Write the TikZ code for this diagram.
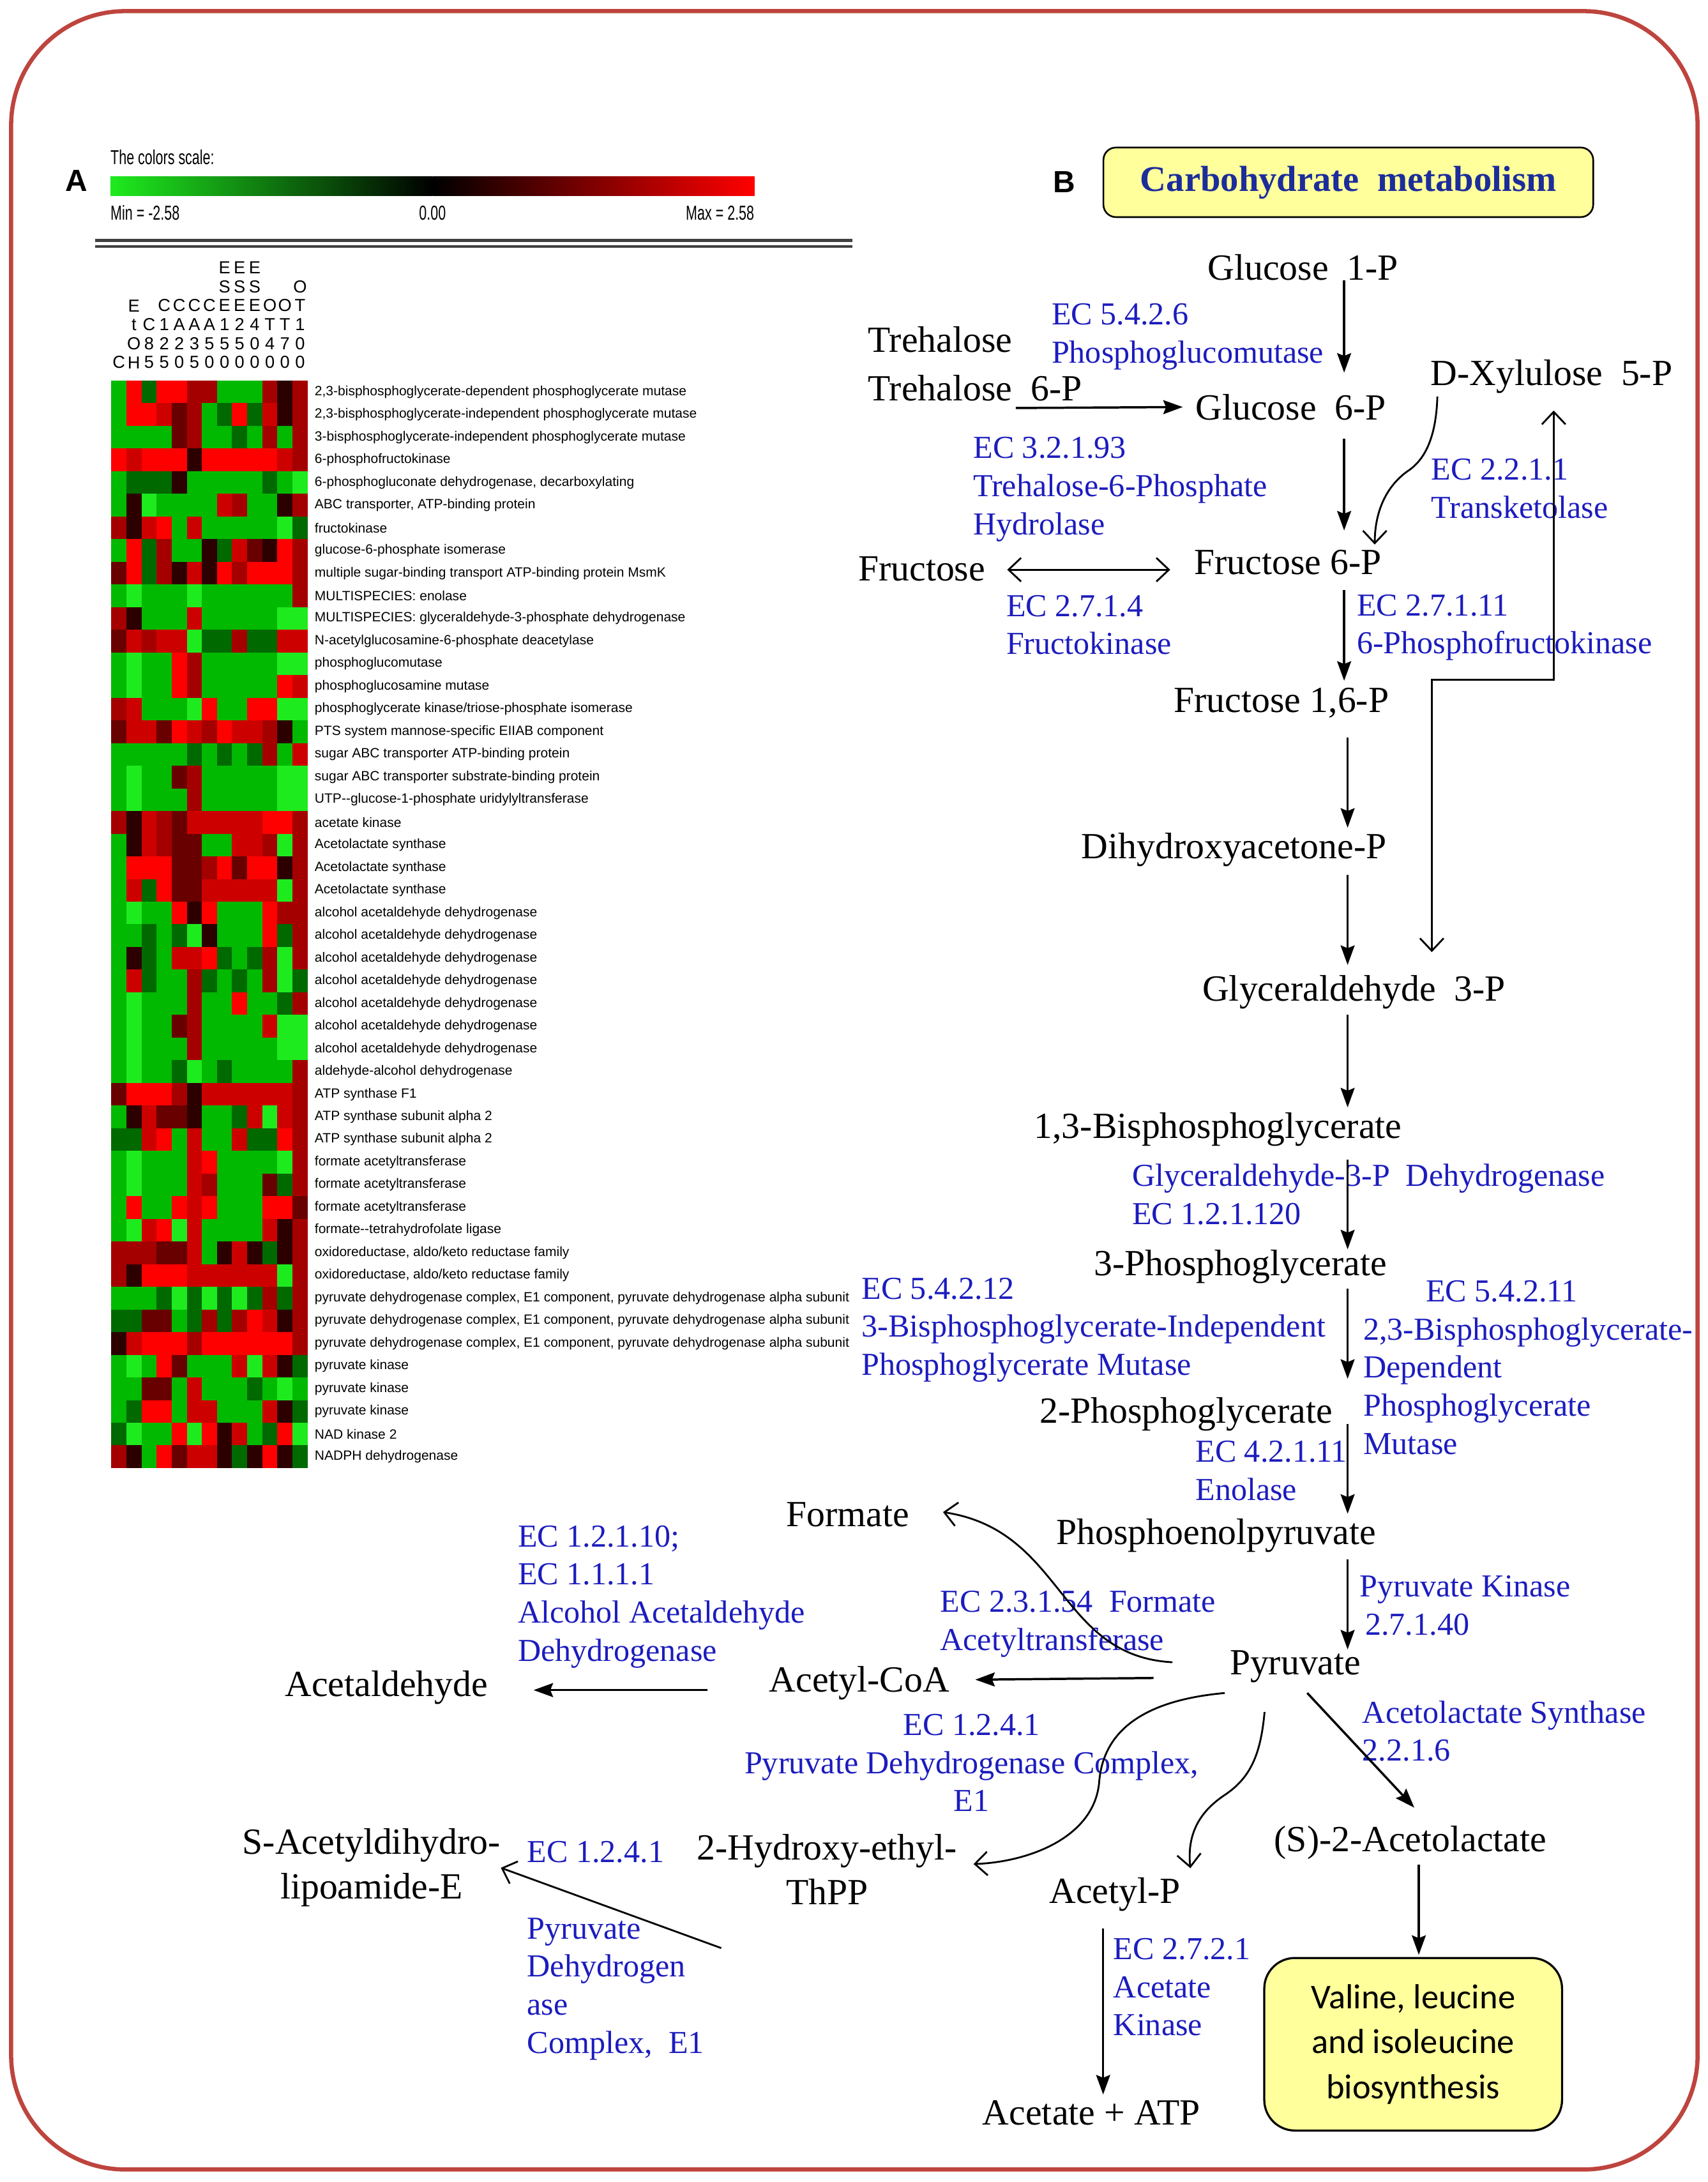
\documentclass[tikz,border=0pt]{standalone}
\usepackage{fontspec}
\usepackage{graphicx}
\usetikzlibrary{arrows.meta}

\setmainfont{Liberation Serif}
\newfontfamily\hmfont{Liberation Sans}
\newfontfamily\boxfont{Carlito}

\definecolor{hmG}{RGB}{30,235,30}
\definecolor{hmg}{RGB}{0,185,0}
\definecolor{hmd}{RGB}{0,105,0}
\definecolor{hmk}{RGB}{45,0,0}
\definecolor{hmx}{RGB}{105,0,0}
\definecolor{hmr}{RGB}{165,0,0}
\definecolor{hmm}{RGB}{205,0,0}
\definecolor{hmR}{RGB}{255,0,0}
\definecolor{enzblue}{RGB}{28,28,190}
\definecolor{titleblue}{RGB}{28,45,155}
\definecolor{framered}{RGB}{190,68,62}
\definecolor{boxyellow}{RGB}{255,255,155}

\newcommand\metfont{\fontsize{26.5}{32}\selectfont}
\newcommand\enzfont{\fontsize{23}{27.4}\selectfont}
\newcommand\hmtext[2]{\scalebox{#1}[1]{#2}}

\begin{document}
\begin{tikzpicture}[x=1pt, y=-1pt,
    met/.style={font=\metfont, inner sep=0pt, text height=18pt, text depth=0pt, anchor=base west},
    metc/.style={font=\metfont, inner sep=0pt, align=center},
    enz/.style={font=\enzfont, text=enzblue, inner sep=0pt, align=left, anchor=north west},
    react/.style={line width=1.6pt, -{Stealth[length=14pt, width=10pt, inset=2pt]}},
    barb/.style={line width=1.3pt, -{Straight Barb[length=9pt, width=17pt]}},
    barbs/.style={line width=1.3pt, {Straight Barb[length=9pt, width=17pt]}-{Straight Barb[length=9pt, width=17pt]}},
    rowlbl/.style={anchor=west, inner sep=0pt, font=\hmfont\fontsize{9.65}{11}\selectfont},
    collbl/.style={anchor=south, inner sep=0pt, align=center, font=\hmfont\fontsize{12.5}{13.6}\selectfont},
    scalelbl/.style={inner sep=0pt, font=\hmfont\fontsize{14.5}{16}\selectfont},
    panel/.style={inner sep=0pt, font=\hmfont\bfseries\fontsize{22}{24}\selectfont}]

    \useasboundingbox (0,0) rectangle (1227.5,1568);
    \fill[white] (0,0) rectangle (1227.5,1568);
    \draw[framered, line width=3pt, rounded corners=82pt] (8,8) rectangle (1220,1559);

    % panel A: colour scale and heat map
    \node[panel] (pana) at (55,130) {A};

    \node[scalelbl, anchor=west] (scaletitle) at (79.3,112.8) {\hmtext{0.68}{The colors scale:}};
    \shade[left color=hmG, right color=black] (79.3,126.7) rectangle (310.8,140.5);
    \shade[left color=black, right color=hmR] (310.8,126.7) rectangle (542.2,140.5);
    \node[scalelbl, anchor=west] (minlbl) at (79.3,153) {\hmtext{0.68}{Min = -2.58}};
    \node[scalelbl] (zerolbl) at (310.8,153) {\hmtext{0.68}{0.00}};
    \node[scalelbl, anchor=east] (maxlbl) at (542.2,153) {\hmtext{0.68}{Max = 2.58}};

    \draw[line width=2pt, black!75] (68.6,172.7) -- (612.8,172.7);
    \draw[line width=2pt, black!75] (68.6,177.2) -- (612.8,177.2);

    \foreach \col [count=\j] in {C, E\\t\\O\\H, C\\8\\5, C\\1\\2\\5, C\\A\\2\\0, C\\A\\3\\5, C\\A\\5\\0,
        E\\S\\E\\1\\5\\0, E\\S\\E\\2\\5\\0, E\\S\\E\\4\\0\\0, O\\T\\4\\0, O\\T\\7\\0, O\\T\\1\\0\\0}
        \node[collbl] (col\j) at ({80+(\j-0.5)*10.85},265) {\col};

    \foreach \row [count=\i] in {
        {g,R,d,R,R,r,r,g,g,g,r,k,r}, {g,R,R,m,x,r,g,d,R,d,m,k,r}, {g,g,g,g,x,r,g,g,d,g,r,g,r},
        {R,m,R,R,R,k,R,R,R,R,R,m,r}, {g,d,d,d,k,g,g,g,g,g,d,g,G}, {g,k,G,g,g,g,g,m,r,g,g,k,r},
        {r,k,m,R,g,m,g,g,g,g,g,G,d}, {g,R,d,r,g,g,k,d,m,x,k,R,r}, {x,R,d,r,k,m,k,R,r,R,R,R,r},
        {g,G,g,g,g,G,g,g,g,g,g,g,r}, {r,k,g,g,g,m,g,g,g,g,g,G,G}, {x,m,r,m,m,G,d,d,r,d,d,m,m},
        {g,G,g,g,R,r,g,g,g,g,g,G,G}, {g,G,g,g,R,r,g,g,g,g,g,R,m}, {r,m,g,g,g,G,R,g,g,R,R,G,G},
        {x,m,m,x,R,m,r,R,m,m,r,k,g}, {g,g,g,g,g,d,g,d,g,d,r,g,m}, {g,G,g,g,x,r,g,g,g,g,g,G,G},
        {g,G,g,g,g,r,g,g,g,g,g,G,G}, {r,k,m,r,x,m,m,m,m,m,R,R,r}, {g,k,m,r,x,x,g,g,m,m,r,G,r},
        {g,R,R,R,x,x,r,R,x,R,R,k,r}, {g,m,d,R,x,x,m,m,m,m,m,G,r}, {g,G,g,g,R,k,R,g,g,g,R,r,r},
        {g,g,d,g,d,G,k,g,g,g,R,d,r}, {g,k,d,g,m,m,R,d,g,d,r,G,r}, {g,m,d,g,g,r,d,g,d,g,r,G,d},
        {g,G,g,g,g,r,g,g,R,g,g,d,r}, {g,G,g,g,x,r,g,g,g,g,m,G,G}, {g,G,g,g,g,r,g,g,g,g,g,G,G},
        {g,G,g,g,d,G,g,d,g,g,g,g,r}, {x,R,R,R,r,k,m,m,m,m,m,m,r}, {g,k,m,x,x,k,g,g,d,m,G,m,r},
        {d,d,m,R,g,m,g,g,m,d,d,R,r}, {g,G,g,g,g,m,R,g,g,g,g,G,r}, {g,G,g,g,g,m,r,g,g,g,x,d,r},
        {g,R,g,g,R,m,R,g,g,g,R,R,x}, {g,G,m,R,G,m,g,g,g,g,m,k,r}, {r,r,r,x,x,m,g,k,m,k,d,k,r},
        {r,k,R,R,R,m,m,m,m,m,m,G,r}, {g,g,g,d,G,d,G,d,G,d,r,d,r}, {d,d,x,x,g,d,r,d,r,R,m,k,r},
        {k,m,R,R,R,r,R,R,R,R,R,R,r}, {g,G,g,R,x,g,g,g,m,G,m,k,d}, {g,g,x,x,g,m,g,g,g,d,g,G,g},
        {g,d,R,R,g,m,m,g,g,g,m,k,d}, {d,G,g,g,R,G,R,k,m,g,d,R,G}, {r,k,g,R,x,m,m,k,d,k,R,k,d}}
        \foreach \cell [count=\j] in \row
            \fill[fill=hm\cell] ({80+(\j-1)*10.85},{273.5+(\i-1)*16.28}) rectangle +(10.95,16.4);

    \foreach \lbl [count=\i] in {
        {2,3-bisphosphoglycerate-dependent phosphoglycerate mutase},
        {2,3-bisphosphoglycerate-independent phosphoglycerate mutase},
        3-bisphosphoglycerate-independent phosphoglycerate mutase,
        6-phosphofructokinase,
        {6-phosphogluconate dehydrogenase, decarboxylating},
        {ABC transporter, ATP-binding protein},
        fructokinase,
        glucose-6-phosphate isomerase,
        multiple sugar-binding transport ATP-binding protein MsmK,
        MULTISPECIES: enolase,
        MULTISPECIES: glyceraldehyde-3-phosphate dehydrogenase,
        N-acetylglucosamine-6-phosphate deacetylase,
        phosphoglucomutase,
        phosphoglucosamine mutase,
        phosphoglycerate kinase/triose-phosphate isomerase,
        PTS system mannose-specific EIIAB component,
        sugar ABC transporter ATP-binding protein,
        sugar ABC transporter substrate-binding protein,
        UTP--glucose-1-phosphate uridylyltransferase,
        acetate kinase,
        Acetolactate synthase, Acetolactate synthase, Acetolactate synthase,
        alcohol acetaldehyde dehydrogenase, alcohol acetaldehyde dehydrogenase,
        alcohol acetaldehyde dehydrogenase, alcohol acetaldehyde dehydrogenase,
        alcohol acetaldehyde dehydrogenase, alcohol acetaldehyde dehydrogenase,
        alcohol acetaldehyde dehydrogenase,
        aldehyde-alcohol dehydrogenase,
        ATP synthase F1,
        ATP synthase subunit alpha 2, ATP synthase subunit alpha 2,
        formate acetyltransferase, formate acetyltransferase, formate acetyltransferase,
        formate--tetrahydrofolate ligase,
        {oxidoreductase, aldo/keto reductase family}, {oxidoreductase, aldo/keto reductase family},
        {pyruvate dehydrogenase complex, E1 component, pyruvate dehydrogenase alpha subunit},
        {pyruvate dehydrogenase complex, E1 component, pyruvate dehydrogenase alpha subunit},
        {pyruvate dehydrogenase complex, E1 component, pyruvate dehydrogenase alpha subunit},
        pyruvate kinase, pyruvate kinase, pyruvate kinase,
        NAD kinase 2,
        NADPH dehydrogenase}
        \node[rowlbl] (lbl\i) at (226,{273.5+(\i-0.5)*16.28}) {\lbl};

    % panel B: pathway
    \node[panel] (panb) at (765,131) {B};

    \node[draw, fill=boxyellow, line width=1.2pt, rounded corners=9pt, minimum width=352pt, minimum height=50pt,
        font=\bfseries\fontsize{26}{30}\selectfont, text=titleblue] (carb) at (969,131) {Carbohydrate\enspace metabolism};

    \node[met] (glc1p) at (867.8,201.4) {Glucose\enspace 1-P};
    \node[met] (treh) at (623.7,253) {Trehalose};
    \node[met] (treh6p) at (623.7,288) {Trehalose\enspace 6-P};
    \node[met] (glc6p) at (859,301.5) {Glucose\enspace 6-P};
    \node[met] (xyl) at (1028,276.8) {D-Xylulose\enspace 5-P};
    \node[met] (fru) at (616.6,417.4) {Fructose};
    \node[met] (fru6p) at (858,412.9) {Fructose 6-P};
    \node[met] (fbp) at (843.4,512) {Fructose 1,6-P};
    \node[met] (dhap) at (777,617) {Dihydroxyacetone-P};
    \node[met] (gap) at (864,719.4) {Glyceraldehyde\enspace 3-P};
    \node[met] (bpg) at (743,818) {1,3-Bisphosphoglycerate};
    \node[met] (pg3) at (786,916.5) {3-Phosphoglycerate};
    \node[met] (pg2) at (747,1022.6) {2-Phosphoglycerate};
    \node[met] (pep) at (759,1110) {Phosphoenolpyruvate};
    \node[met] (pyr) at (883.6,1203.5) {Pyruvate};
    \node[met] (formate) at (565,1097) {Formate};
    \node[met] (acald) at (204.7,1219) {Acetaldehyde};
    \node[met] (accoa) at (552.6,1216) {Acetyl-CoA};
    \node[met] (acetolac) at (915.6,1330.7) {(S)-2-Acetolactate};
    \node[met] (acetylp) at (754,1367.8) {Acetyl-P};
    \node[met] (acetate) at (706,1527) {Acetate + ATP};
    \node[metc] (hethpp) at (594.4,1343.5) {2-Hydroxy-ethyl-\\ThPP};
    \node[metc] (sacet) at (267,1342.2) {S-Acetyldihydro-\\lipoamide-E};

    \node[draw, fill=boxyellow, line width=1.5pt, rounded corners=22pt, minimum width=214pt, minimum height=124pt,
        align=center, font=\boxfont\fontsize{25}{32.5}\selectfont] (valbox) at (1015.6,1469) {Valine, leucine\\and isoleucine\\biosynthesis};

    \node[enz] (ec5426) at (755.6,218) {EC 5.4.2.6\\Phosphoglucomutase};
    \node[enz] (ec32193) at (699.3,314) {EC 3.2.1.93\\Trehalose-6-Phosphate\\Hydrolase};
    \node[enz] (ec2211) at (1028.5,329.5) {EC 2.2.1.1\\Transketolase};
    \node[enz] (ec2714) at (723,427.4) {EC 2.7.1.4\\Fructokinase};
    \node[enz] (ec27111) at (975,427) {EC 2.7.1.11\\6-Phosphofructokinase};
    \node[enz] (gapdh) at (813.5,836.3) {Glyceraldehyde-3-P\enspace Dehydrogenase\\EC 1.2.1.120};
    \node[enz] (ec54212) at (619,918) {EC 5.4.2.12\\3-Bisphosphoglycerate-Independent\\Phosphoglycerate Mutase};
    \node[enz] (ec54211) at (979.6,920) {\hspace*{45pt}EC 5.4.2.11\\2,3-Bisphosphoglycerate-\\Dependent\\Phosphoglycerate\\Mutase};
    \node[enz] (ec42111) at (859,1035.3) {EC 4.2.1.11\\Enolase};
    \node[enz] (pk) at (977,1132) {Pyruvate Kinase\\\hspace*{4pt}2.7.1.40};
    \node[enz] (ec12110) at (372,1096) {EC 1.2.1.10;\\EC 1.1.1.1\\Alcohol Acetaldehyde\\Dehydrogenase};
    \node[enz] (ec23154) at (675.5,1143) {EC 2.3.1.54\enspace Formate\\Acetyltransferase};
    \node[enz, align=center, anchor=north] (ec1241a) at (698.3,1231.6) {EC 1.2.4.1\\Pyruvate Dehydrogenase Complex,\\E1};
    \node[enz] (als) at (979,1222) {Acetolactate Synthase\\2.2.1.6};
    \node[enz] (ec1241b) at (378.7,1323) {EC 1.2.4.1};
    \node[enz] (pdh) at (378.7,1378) {Pyruvate\\Dehydrogen\\ase\\Complex,\enspace E1};
    \node[enz] (ec2721) at (800,1392.6) {EC 2.7.2.1\\Acetate\\Kinase};

    \coordinate (spine) at (966,0);
    \coordinate (spinelow) at (968.5,0);
    \draw[react, shorten >=15.5pt] (glc1p.south -| spine) -- (glc6p.north -| spine);
    \draw[react, shorten <=13.5pt, shorten >=13.5pt] (glc6p.south -| spine) -- (fru6p.north -| spine);
    \draw[react, shorten <=11pt, shorten >=4.6pt] (fru6p.south -| spine) -- (fbp.north -| spine);
    \draw[react, shorten <=18pt, shorten >=4pt] (fbp.south -| spinelow) -- (dhap.north -| spinelow);
    \draw[react, shorten <=11.5pt, shorten >=7.8pt] (dhap.south -| spinelow) -- (gap.north -| spinelow);
    \draw[react, shorten <=9.6pt, shorten >=4pt] (gap.south -| spinelow) -- (bpg.north -| spinelow);
    \draw[react, shorten <=15pt, shorten >=0.5pt] (bpg.south -| spinelow) -- (pg3.north -| spinelow);
    \draw[react, shorten <=9.5pt, shorten >=13.6pt] (pg3.south -| spinelow) -- (pg2.north -| spinelow);
    \draw[react, shorten <=0.4pt, shorten >=4pt] (pg2.south -| spinelow) -- (pep.north -| spinelow);
    \draw[react, shorten <=10.4pt] (pep.south -| spinelow) -- (pyr.north -| spinelow);

    \draw[react] ([shift={(106.3,5)}]treh6p.south west) -- ([xshift=-9pt]glc6p.west);
    \draw[barb] ([shift={(5,8)}]xyl.south west) .. controls (1032,318) and (1022,332) .. (1011,339)
        .. controls (996,350) and (988,368) .. ([shift={(130,-3.4)}]fru6p.north west);

    \coordinate (frux) at ([yshift=-1pt]fru.east);
    \draw[barbs, shorten <=15.6pt, shorten >=17pt] (frux) -- (frux -| fru6p.west);

    \coordinate (loopr) at (1116.6,488.3);
    \coordinate (loopl) at (1029,488.3);
    \draw[barbs, shorten <=18pt, shorten >=17pt] (loopr |- xyl.south) -- (loopr) -- (loopl) -- (loopl |- gap.north);

    \draw[barb] ([xshift=-41pt]pyr.west) .. controls (760,1190) and (765,1100) .. ([shift={(24,-1.4)}]formate.east);
    \draw[react] ([shift={(-54.6,11.3)}]pyr.west) -- ([xshift=18.4pt]accoa.east);
    \draw[react] ([shift={(-44.3,7.5)}]accoa.west) -- ([shift={(32.7,4.5)}]acald.east);
    \draw[react] ([shift={(8.6,12.9)}]pyr.south) -- ([shift={(2.8,-13.5)}]acetolac.north);

    \coordinate (alx) at ([xshift=6pt]acetolac.south);
    \draw[react, shorten <=8.8pt, shorten >=1.5pt] (alx) -- (alx |- valbox.north);

    \draw[barb] ([shift={(-3.4,12.9)}]pyr.south west) .. controls (820,1222) and (793,1245) .. (790,1280)
        .. controls (787,1320) and (740,1338) .. ([shift={(11.6,-4)}]hethpp.east);
    \draw[barb] ([shift={(-22.1,26.5)}]pyr.south) .. controls (906,1262) and (898,1278) .. (880,1290)
        .. controls (862,1302) and (853,1318) .. ([shift={(6.9,-7.1)}]acetylp.north east);
    \draw[barb] ([shift={(17.6,31)}]hethpp.south west) -- (sacet.east);

    \coordinate (apx) at ([xshift=-8.5pt]acetylp.south);
    \draw[react, shorten <=18pt, shorten >=3.7pt] (apx) -- (apx |- acetate.north);
\end{tikzpicture}
\end{document}
